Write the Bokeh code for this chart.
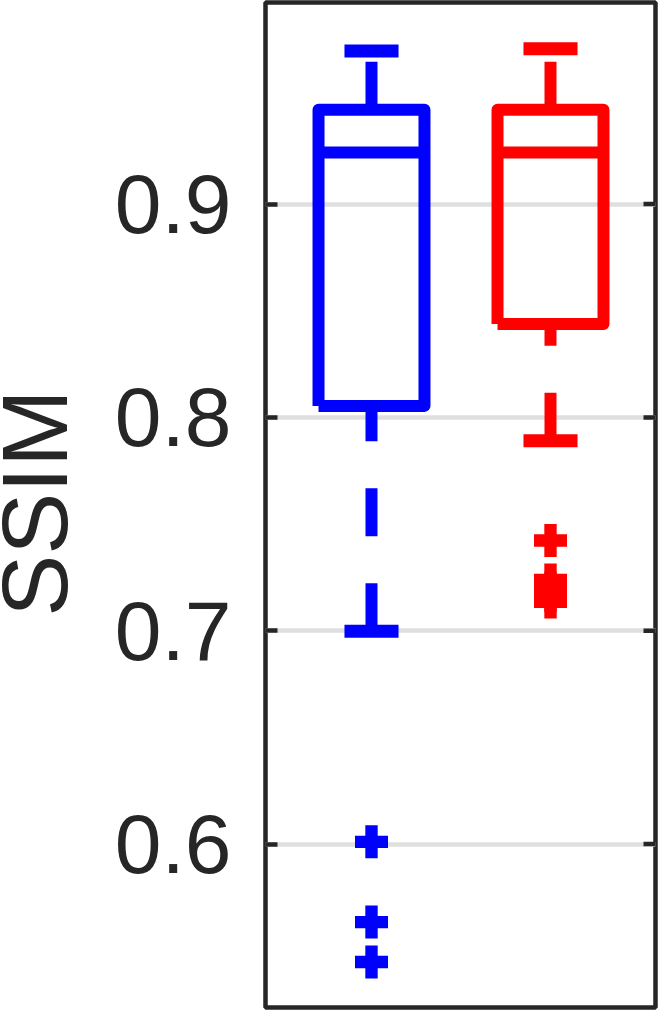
import math
from bokeh.plotting import figure
from bokeh.models import FixedTicker, Range1d, Label
from bokeh.layouts import row
from bokeh.embed import file_html
from bokeh.resources import INLINE

# ---- data ----
positions = [1, 2]
colors = ["#0000ff", "#ff0000"]
upper_whisker = [0.9718, 0.9728]
q3 = [0.9442, 0.9442]
median = [0.9242, 0.9242]
q1 = [0.8054, 0.8438]
lower_whisker = [0.6997, 0.7890]
outliers_blue = [0.6010, 0.5634, 0.5447]
outliers_red = [0.7423, 0.7238, 0.7200, 0.7165, 0.7135]
y_ticks = [0.6, 0.7, 0.8, 0.9]
y_label = "SSIM"

# ---- style ----
BOX_HW = 0.296
CAP_HW = 0.151
INK = "#262626"
FONT = "Liberation Sans"
X0, X1 = 0.40782, 2.58659
Y0, Y1 = 0.52335, 0.99451
PX_PER_X = 179.0
LAB_W = 110
H = 1014

# narrow strip holding the rotated y-axis title
lab = figure(width=LAB_W, height=H, min_border=0, x_range=Range1d(0, LAB_W),
             y_range=Range1d(0, H), x_axis_location=None, y_axis_location=None,
             output_backend="svg", toolbar_location=None, outline_line_color=None,
             background_fill_color="white", border_fill_color="white")
lab.grid.visible = False
lab.add_layout(Label(x=34, y=H - 505, text=y_label, angle=math.pi / 2, angle_units="rad",
                     text_align="center", text_baseline="middle", text_font=FONT,
                     text_font_size="93px", text_color=INK))

p = figure(
    frame_width=390, frame_height=1005,
    min_border_left=265 - LAB_W, min_border_right=7, min_border_top=2, min_border_bottom=7,
    x_range=Range1d(X0, X1), y_range=Range1d(Y0, Y1),
    x_axis_location=None, output_backend="svg", toolbar_location=None,
    background_fill_color="white", border_fill_color="white",
)
p.outline_line_color = INK
p.outline_line_width = 4.5
p.outline_line_alpha = 1.0

ticker = FixedTicker(ticks=y_ticks)
yax = p.yaxis[0]
yax.ticker = ticker
yax.axis_line_color = None
yax.major_tick_in = 12
yax.major_tick_out = 0
yax.minor_tick_line_color = None
yax.major_tick_line_color = INK
yax.major_tick_line_width = 4.5
yax.major_label_text_font = FONT
yax.major_label_text_font_size = "84px"
yax.major_label_text_color = INK
yax.major_label_standoff = 34

p.ygrid.ticker = ticker
p.ygrid.grid_line_color = "#dfdfdf"
p.ygrid.grid_line_width = 4.5
p.xgrid.grid_line_color = None

# right-side inward ticks
tick_len = 12 / PX_PER_X
p.segment(x0=[X1] * len(y_ticks), x1=[X1 - tick_len] * len(y_ticks), y0=y_ticks, y1=y_ticks,
          line_color=INK, line_width=4.5, line_cap="butt")

# boxes as open polylines (start at bottom-left, like MATLAB)
xs, ys = [], []
for x, lo, hi in zip(positions, q1, q3):
    xs.append([x - BOX_HW, x + BOX_HW, x + BOX_HW, x - BOX_HW, x - BOX_HW])
    ys.append([lo, lo, hi, hi, lo])
p.multi_line(xs=xs, ys=ys, line_color=colors, line_width=12,
             line_join="round", line_cap="butt")

# medians
p.segment(x0=[x - BOX_HW for x in positions], x1=[x + BOX_HW for x in positions],
          y0=median, y1=median, line_color=colors, line_width=12, line_cap="butt")

# whiskers (dashed, drawn from the lower value upward)
p.segment(x0=positions, x1=positions, y0=lower_whisker, y1=q1,
          line_color=colors, line_width=12, line_dash="48 47", line_cap="butt")
p.segment(x0=positions, x1=positions, y0=q3, y1=upper_whisker,
          line_color=colors, line_width=12, line_dash="48 47", line_cap="butt")

# caps
for vals in (lower_whisker, upper_whisker):
    p.segment(x0=[x - CAP_HW for x in positions], x1=[x + CAP_HW for x in positions],
              y0=vals, y1=vals, line_color=colors, line_width=13, line_cap="butt")

# outliers
p.scatter(x=[positions[0]] * len(outliers_blue), y=outliers_blue, marker="plus",
          size=33, fill_color=colors[0], line_color=None)
p.scatter(x=[positions[1]] * len(outliers_red), y=outliers_red, marker="plus",
          size=33, fill_color=colors[1], line_color=None)

layout = row(lab, p, spacing=0)
open("out.html", "w").write(file_html(layout, INLINE))
